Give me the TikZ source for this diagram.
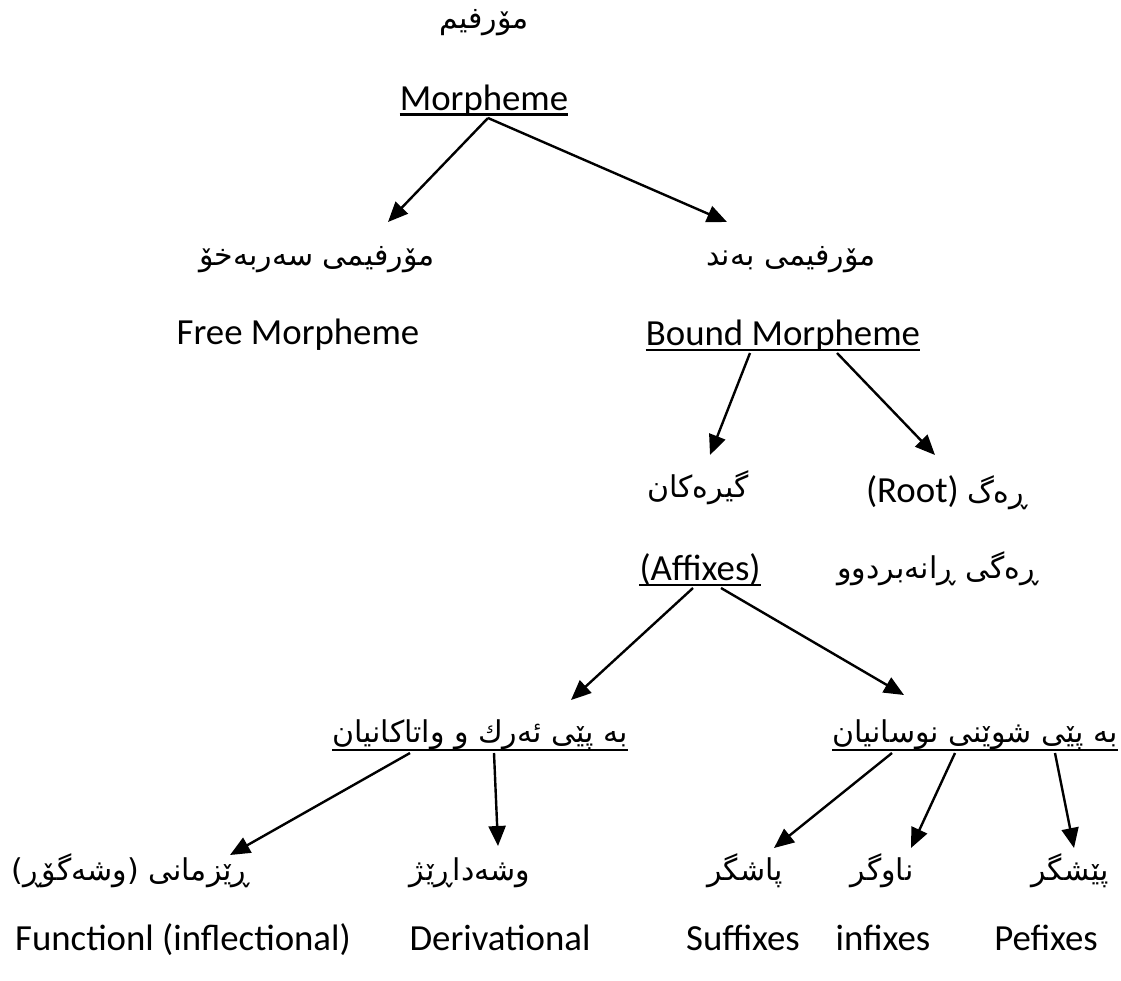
\documentclass[tikz,border=0pt]{standalone}
\usepackage{fontspec}
\usetikzlibrary{arrows.meta,calc}
\setmainfont{Carlito}
\newfontfamily\kufont[Script=Arabic]{DejaVu Sans}
\TeXXeTstate=1
% right-to-left Kurdish run
\newcommand{\rtl}[1]{\beginR #1\endR}

\begin{document}
\begin{tikzpicture}[x=1pt,y=-1pt,
  en/.style={inner sep=0pt,anchor=base,font=\fontsize{36.8}{40}\selectfont},
  ku/.style={inner sep=0pt,anchor=base,font=\fontsize{30}{36}\kufont},
  uline/.style={line width=2.6pt},
  link/.style={line width=2.4pt,-{Triangle[length=20pt,width=17pt]}}]
\useasboundingbox[fill=white] (0,0) rectangle (1121,980);

% level 0
\node[ku] (kTop)  at (484,28)  {\rtl{مۆرفیم}};
\node[en] (morph) at (484,110) {Morpheme};

% level 1
\node[ku] (kFree)  at (317,265) {\rtl{مۆرفیمی سەربەخۆ}};
\node[ku] (kBound) at (791,265) {\rtl{مۆرفیمی بەند}};
\node[en] (free)   at (298,344) {Free Morpheme};
\node[en] (bound)  at (783,345) {Bound Morpheme};

% level 2
\node[ku] (kAff)  at (698,497) {\rtl{گیرەکان}};
\node[en] (root)  at (947,502) {(Root)\ {\fontsize{30}{36}\kufont\rtl{ڕەگ}}};
\node[en] (aff)   at (700,580) {(Affixes)};
\node[ku] (kPast) at (938,578) {\rtl{ڕەگی ڕانەبردوو}};

% level 3
\node[ku] (byFunc) at (480,742) {\rtl{بە پێی ئەرك و واتاكانیان}};
\node[ku] (byPos)  at (975,742) {\rtl{بە پێی شوێنی نوسانیان}};

% level 4
\node[ku] (kInfl)  at (131,880)  {\rtl{ڕێزمانی (وشەگۆڕ)}};
\node[ku] (kDeriv) at (470,880)  {\rtl{وشەداڕێژ}};
\node[ku] (kSuf)   at (745,880)  {\rtl{پاشگر}};
\node[ku] (kInf)   at (882,880)  {\rtl{ناوگر}};
\node[ku] (kPre)   at (1070,880) {\rtl{پێشگر}};
\node[en] (infl)   at (183,950)  {Functionl (inflectional)};
\node[en] (deriv)  at (500,950)  {Derivational};
\node[en] (suf)    at (743,950)  {Suffixes};
\node[en] (inf)    at (883,950)  {infixes};
\node[en] (pre)    at (1046,950) {Pefixes};

% underlines
\foreach \n/\d in {morph/4.5, bound/5, aff/5, byFunc/8, byPos/8}
  \draw[uline] ([shift={(0,\d)}]\n.base west) -- ([shift={(0,\d)}]\n.base east);

% connectors
\draw[link] ([shift={(4,8)}]morph.base)   -- ([shift={(71,-43)}]kFree.base);
\draw[link] ([shift={(4,8)}]morph.base)   -- ([shift={(-64,-43)}]kBound.base);
\draw[link] ([shift={(-33,8)}]bound.base) -- ([shift={(12,-42)}]kAff.base);
\draw[link] ([shift={(54,8)}]bound.base)  -- ([shift={(-12,-47)}]root.base);
\draw[link] ([shift={(-7,8)}]aff.base)    -- ([shift={(91,-42)}]byFunc.base);
\draw[link] ([shift={(21,8)}]aff.base)    -- ([shift={(-71,-47)}]byPos.base);
\draw[link] ([shift={(-70,11)}]byFunc.base) -- ([shift={(99,-25)}]kInfl.base);
\draw[link] ([shift={(14,11)}]byFunc.base)  -- ([shift={(28,-34)}]kDeriv.base);
\draw[link] ([shift={(-83,11)}]byPos.base)  -- ([shift={(29,-32)}]kSuf.base);
\draw[link] ([shift={(-20,11)}]byPos.base)  -- ([shift={(29,-32)}]kInf.base);
\draw[link] ([shift={(80,11)}]byPos.base)   -- ([shift={(4,-32)}]kPre.base);
\end{tikzpicture}
\end{document}
